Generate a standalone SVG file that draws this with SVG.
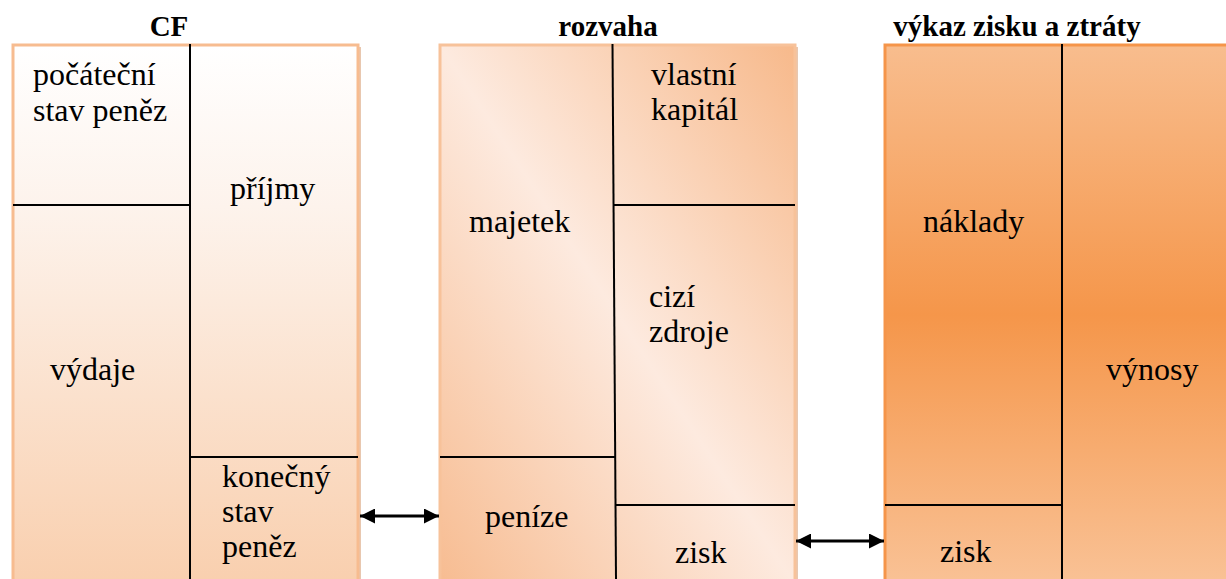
<svg xmlns="http://www.w3.org/2000/svg" width="1226" height="579" viewBox="0 0 1226 579">
<defs>
  <linearGradient id="gCF" x1="0" y1="0" x2="0" y2="1">
    <stop offset="0" stop-color="#FFFFFF"/>
    <stop offset="0.3" stop-color="#FDF3EC"/>
    <stop offset="1" stop-color="#F9CFAE"/>
  </linearGradient>
  <linearGradient id="gRoz" x1="0" y1="1" x2="1" y2="0">
    <stop offset="0" stop-color="#F7BC91"/>
    <stop offset="0.5" stop-color="#FDEADF"/>
    <stop offset="1" stop-color="#F7B98B"/>
  </linearGradient>
  <linearGradient id="gVyk" x1="0" y1="0" x2="0" y2="1">
    <stop offset="0" stop-color="#F8BD8E"/>
    <stop offset="0.5" stop-color="#F5964A"/>
    <stop offset="1" stop-color="#F9C296"/>
  </linearGradient>
  <marker id="ah" viewBox="0 0 10 10" refX="10" refY="5" markerWidth="5" markerHeight="5" orient="auto-start-reverse" markerUnits="strokeWidth">
    <path d="M0,0 L10,5 L0,10 z" fill="#000"/>
  </marker>
</defs>
<style>
  .title { font-family: "Liberation Serif", serif; font-weight: bold; font-size: 29px; fill: #000; text-anchor: middle; }
  .lbl { font-family: "Liberation Serif", serif; font-size: 32px; fill: #000; }
  .div { stroke: #000; stroke-width: 2; fill: none; }
  .shadow { fill: #D9A27A; opacity: 0.6; }
  .conn { stroke: #000; stroke-width: 3; fill: none; }
</style>
<rect width="1226" height="579" fill="#FFFFFF"/>

<g id="cf">
  <text class="title" x="169" y="36">CF</text>
  <rect class="shadow" x="15" y="47" width="346" height="540"/>
  <rect x="13" y="45" width="345" height="540" fill="url(#gCF)" stroke="#F7BC90" stroke-width="3"/>
  <line class="div" x1="190" y1="44" x2="190" y2="579"/>
  <line class="div" x1="13" y1="205" x2="190" y2="205"/>
  <line class="div" x1="190" y1="457" x2="358" y2="457"/>
  <text class="lbl" x="33" y="85">počáteční</text>
  <text class="lbl" x="33" y="121">stav peněz</text>
  <text class="lbl" x="230" y="199">příjmy</text>
  <text class="lbl" x="50" y="380">výdaje</text>
  <text class="lbl" x="222" y="487">konečný</text>
  <text class="lbl" x="222" y="522">stav</text>
  <text class="lbl" x="222" y="557">peněz</text>
</g>

<g id="rozvaha">
  <text class="title" x="608" y="36">rozvaha</text>
  <rect class="shadow" x="442" y="47" width="356" height="540"/>
  <rect x="440" y="45" width="355" height="540" fill="url(#gRoz)" stroke="#F7C29A" stroke-width="3"/>
  <line class="div" x1="612.5" y1="44" x2="616" y2="579"/>
  <line class="div" x1="613" y1="205" x2="795" y2="205"/>
  <line class="div" x1="440" y1="457" x2="615" y2="457"/>
  <line class="div" x1="615.5" y1="505" x2="795" y2="505"/>
  <text class="lbl" x="651" y="85">vlastní</text>
  <text class="lbl" x="651" y="120">kapitál</text>
  <text class="lbl" x="469" y="232">majetek</text>
  <text class="lbl" x="649" y="307">cizí</text>
  <text class="lbl" x="649" y="342">zdroje</text>
  <text class="lbl" x="485" y="527">peníze</text>
  <text class="lbl" x="675" y="563">zisk</text>
</g>

<g id="vykaz">
  <text class="title" x="1017" y="36">výkaz zisku a ztráty</text>
  <rect x="885" y="45" width="345" height="540" fill="url(#gVyk)" stroke="#F5954A" stroke-width="3"/>
  <line class="div" x1="1062" y1="44" x2="1062" y2="579"/>
  <line class="div" x1="885" y1="505" x2="1062" y2="505"/>
  <text class="lbl" x="923" y="232">náklady</text>
  <text class="lbl" x="1106" y="380">výnosy</text>
  <text class="lbl" x="940" y="562">zisk</text>
</g>

<g id="connectors">
  <line class="conn" x1="360" y1="516" x2="439" y2="516" marker-start="url(#ah)" marker-end="url(#ah)"/>
  <line class="conn" x1="796" y1="541" x2="884" y2="541" marker-start="url(#ah)" marker-end="url(#ah)"/>
</g>
</svg>
